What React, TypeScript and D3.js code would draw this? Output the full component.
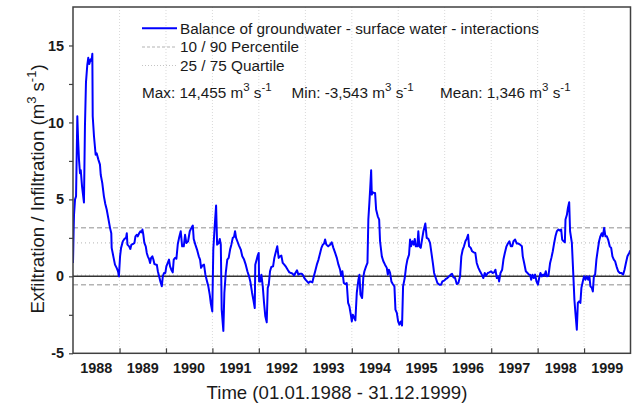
import { useEffect, useRef } from "react";
import * as d3 from "d3";

// day-of-year / value pairs, one array per year
const years = [1988, 1989, 1990, 1991, 1992, 1993, 1994, 1995, 1996, 1997, 1998, 1999];

const d1988 = [[0,0.87],[5,3.0],[8,4.0],[16,5.0],[24,5.2],[34,10.4],[40,8.9],[47,7.6],[55,6.7],[61,6.9],[71,5.85],[86,4.8],[94,9.75],[102,12.6],[112,13.7],[120,14.2],[128,13.8],[139,14.1],[146,14.0],[152,14.455],[155,10.4],[165,9.1],[178,7.9],[186,8.0],[199,7.6],[212,7.26],[218,6.6],[230,6.07],[243,5.2],[254,4.7],[265,4.34],[277,3.8],[291,3.15],[301,2.8],[304,1.85],[317,1.3],[330,0.76],[343,0.55],[354,0.33],[361,0.0]];
const d1989 = [[4,1.3],[12,1.85],[26,2.28],[38,2.43],[51,2.5],[57,2.8],[62,2.06],[75,1.95],[85,1.78],[93,2.06],[106,2.1],[117,2.17],[125,2.6],[136,2.7],[143,2.6],[154,2.8],[164,2.93],[172,2.86],[180,3.04],[187,2.7],[195,2.17],[206,1.95],[214,1.52],[222,1.3],[232,1.13],[240,0.87],[248,1.2],[258,1.3],[266,1.09],[274,0.8],[285,0.76],[293,0.76],[301,0.33],[311,0.0],[321,-0.33],[332,-0.65],[340,0.0],[350,0.22],[360,0.22]];
const d1990 = [[3,0.65],[14,0.87],[24,1.09],[32,0.65],[42,0.43],[53,0.26],[61,1.09],[72,1.2],[82,1.15],[93,2.1],[103,2.5],[116,2.93],[127,1.95],[140,1.95],[150,2.7],[160,2.17],[174,2.28],[187,2.93],[200,3.15],[211,3.3],[218,2.43],[231,2.06],[244,1.74],[258,1.3],[268,1.09],[276,0.55],[286,0.7],[299,0.76],[310,0.11],[323,-0.33],[333,-0.65],[344,-1.19],[352,-1.73],[364,-2.28]];
const d1991 = [[7,1.74],[18,3.25],[29,4.6],[37,2.06],[50,2.17],[58,2.43],[66,2.06],[73,-2.16],[86,-3.543],[94,-1.08],[105,0.22],[117,1.09],[128,1.2],[139,1.74],[149,2.06],[160,2.5],[170,2.56],[178,2.93],[186,2.5],[196,2.28],[209,2.0],[223,1.74],[235,1.3],[249,1.09],[262,0.76],[275,0.33],[288,0],[298,-0.33],[312,-1.08],[322,-1.52],[333,-2.06],[337,0.76],[348,1.09],[356,1.35],[364,1.52]];
const d1992 = [[2,-0.33],[12,-0.33],[20,0.11],[31,-0.65],[41,-1.73],[51,-2.6],[62,-2.99],[70,-0.75],[78,-0.54],[88,0.33],[98,0.61],[112,0.65],[122,1.2],[135,1.63],[145,1.95],[156,1.2],[167,1.3],[177,1.35],[188,0.87],[200,0.76],[214,0.61],[227,0.43],[240,0.26],[253,0.22],[266,0.17],[277,0.04],[287,0.22],[300,0.39],[311,0.11],[324,0.17],[337,0.17],[350,0.04],[358,-0.11]];
const d1993 = [[6,-0.26],[24,-0.43],[37,-0.33],[55,-0.39],[63,-0.11],[77,0.33],[90,0.76],[103,1.09],[116,1.52],[126,1.85],[137,2.06],[147,2.13],[155,2.39],[165,2.06],[179,1.95],[194,2.06],[207,2.21],[220,1.85],[234,1.52],[247,1.2],[260,0.76],[273,0.43],[281,0.04],[291,0.33],[302,-0.43],[312,-0.5],[325,-0.43],[336,-1.73],[346,-1.95],[357,-2.49],[365,-2.93]];
const d1994 = [[8,-2.49],[20,-2.71],[28,-2.86],[39,-1.08],[52,-0.22],[60,0.11],[68,-1.19],[81,-1.41],[91,0],[99,0.33],[112,0.65],[123,0.87],[130,3.69],[138,4.77],[144,5.64],[152,6.89],[157,5.31],[165,5.46],[175,5.42],[183,5.42],[191,4.34],[204,3.9],[215,3.69],[222,2.28],[236,1.3],[248,0.98],[261,0.76],[275,0.55],[283,0.11],[291,0.43],[301,0.22],[311,-0.33],[322,-0.5],[335,-0.65],[343,-2.16],[354,-2.38],[364,-2.93]];
const d1995 = [[9,-3.14],[20,-2.93],[30,-3.2],[38,-0.65],[51,-0.11],[62,0.65],[72,1.09],[85,1.41],[93,2.39],[101,1.95],[111,2.28],[122,2.06],[130,2.43],[138,1.95],[150,1.95],[158,2.93],[166,1.95],[177,1.85],[187,2.39],[198,2.93],[213,3.43],[224,2.5],[237,2.43],[250,2.17],[261,1.52],[272,0.87],[282,0.22],[295,-0.11],[308,-0.43],[324,-0.54],[337,-0.54],[347,-0.33],[361,-0.28]];
const d1996 = [[9,-0.17],[21,-0.11],[35,0],[48,0.11],[58,0.17],[68,-0.06],[82,-0.11],[95,-0.5],[108,-0.43],[121,0],[131,1.3],[142,1.74],[152,1.95],[163,2.28],[174,2.45],[184,2.7],[192,1.95],[205,1.85],[216,1.63],[229,1.56],[241,1.52],[252,0.87],[265,0.55],[278,0.33],[292,0.11],[304,-0.11],[315,0.22],[325,0.04],[339,0.22],[351,0.26],[365,0.33]];
const d1997 = [[10,0.22],[23,0.26],[33,0.43],[44,-0.11],[55,0],[62,-0.33],[73,0.22],[86,0.43],[96,1.09],[107,1.52],[120,1.95],[131,2.13],[143,2.28],[154,1.95],[165,1.95],[175,2.28],[188,2.39],[201,2.13],[214,2.13],[227,2.06],[241,1.95],[248,1.3],[259,0.87],[272,0.33],[285,0.22],[296,0.11],[306,0.11],[314,-0.22],[324,0.11],[335,-0.11],[345,0.11],[356,-0.33]];
const d1998 = [[2,-0.54],[12,-0.11],[22,0.22],[33,0],[43,0.11],[53,0.04],[64,0.33],[72,0],[85,0.04],[98,0.87],[108,1.2],[119,1.63],[130,2.17],[140,2.6],[151,2.93],[164,3.04],[177,2.97],[185,3.04],[193,2.39],[203,2.28],[214,2.21],[219,3.69],[230,4.0],[238,4.45],[248,4.81],[255,2.93],[269,2.17],[281,0],[289,-1.52],[297,-2.38],[308,-3.47],[316,-1.73],[326,-1.63],[336,-1.73],[344,-0.75],[355,-0.33],[365,0]];
const d1999 = [[11,-0.22],[22,0],[32,-0.22],[42,0],[50,-0.65],[61,-0.75],[69,-0.98],[77,0],[87,0.11],[97,1.09],[108,1.74],[118,2.28],[128,2.6],[139,2.8],[147,2.6],[158,3.15],[168,2.6],[179,2.6],[189,2.39],[202,1.95],[213,1.85],[223,1.3],[234,1.09],[244,0.98],[255,0.65],[268,0.33],[281,0.22],[294,0.22],[307,0.11],[318,0.43],[329,0.87],[341,1.3],[355,1.52],[364,1.69]];

const series = [d1988, d1989, d1990, d1991, d1992, d1993, d1994, d1995, d1996, d1997, d1998, d1999];

// reference levels
const percentiles = [-0.54, 3.15]; // 10 / 90
const quartiles = [0.08, 2.17]; // 25 / 75
const yMajor = [-5, 0, 5, 10, 15];
const yMinor = [-2.5, 2.5, 7.5, 12.5];

const legendLabels = ["Balance of groundwater - surface water - interactions", "10 / 90 Percentile", "25 / 75 Quartile"];
const stats = [["Max:", "14,455"], ["Min:", "-3,543"], ["Mean:", "1,346"]];

const FONT = "'Liberation Sans', Arial, Helvetica, sans-serif";
const DAY = 864e5;

export default function App() {
  const ref = useRef<SVGSVGElement | null>(null);

  useEffect(() => {
    if (!ref.current) return;
    const svg = d3.select(ref.current);
    svg.selectAll("*").remove();

    const left = 73, right = 630.5, top = 7, bottom = 353.3;
    const t0 = new Date(Date.UTC(1988, 0, 1));
    const t1 = new Date(Date.UTC(2000, 0, 1));
    const x = d3.scaleUtc().domain([t0, t1]).range([left, right]);
    const y = d3.scaleLinear().domain([-5, 17.5]).range([bottom, top]);

    const pts: { t: Date; v: number }[] = [];
    years.forEach((yr, i) => {
      series[i].forEach(([d, v]) => pts.push({ t: new Date(Date.UTC(yr, 0, 1) + d * DAY), v }));
    });

    svg.append("defs").append("clipPath").attr("id", "plotclip")
      .append("rect").attr("x", left).attr("y", top).attr("width", right - left).attr("height", bottom - top);

    const yearStarts = years.slice(1).map(yr => new Date(Date.UTC(yr, 0, 1)));

    // vertical grid
    svg.append("g").selectAll("line").data(yearStarts).join("line")
      .attr("x1", d => x(d)).attr("x2", d => x(d))
      .attr("y1", top).attr("y2", bottom)
      .attr("stroke", "#d9d9d9").attr("stroke-width", 1).attr("stroke-dasharray", "1,2");

    // percentile + quartile lines
    svg.append("g").selectAll("line").data(percentiles).join("line")
      .attr("x1", left).attr("x2", right).attr("y1", d => y(d)).attr("y2", d => y(d))
      .attr("stroke", "#b4b4b4").attr("stroke-width", 1.5).attr("stroke-dasharray", "5,3");
    svg.append("g").selectAll("line").data(quartiles).join("line")
      .attr("x1", left).attr("x2", right).attr("y1", d => y(d)).attr("y2", d => y(d))
      .attr("stroke", "#c4c4c4").attr("stroke-width", 1.2).attr("stroke-dasharray", "1,3");

    // zero line
    svg.append("line").attr("x1", left).attr("x2", right).attr("y1", y(0)).attr("y2", y(0))
      .attr("stroke", "#333").attr("stroke-width", 1.5);

    // series
    const line = d3.line<{ t: Date; v: number }>().x(d => x(d.t)).y(d => y(d.v));
    svg.append("path").datum(pts)
      .attr("clip-path", "url(#plotclip)")
      .attr("fill", "none").attr("stroke", "#0000ff").attr("stroke-width", 2)
      .attr("stroke-linejoin", "round").attr("d", line);

    // frame
    svg.append("rect").attr("x", left).attr("y", top).attr("width", right - left).attr("height", bottom - top)
      .attr("fill", "none").attr("stroke", "#404040").attr("stroke-width", 1.5);

    // y axis (major with labels, minor without)
    const gy = svg.append("g").attr("transform", `translate(${left},0)`)
      .call(d3.axisLeft(y).tickValues(yMajor).tickSize(4).tickPadding(5).tickFormat(d => String(d)));
    const gyMinor = svg.append("g").attr("transform", `translate(${left},0)`)
      .call(d3.axisLeft(y).tickValues(yMinor).tickSize(4).tickFormat(() => ""));
    gy.select(".domain").remove();
    gyMinor.select(".domain").remove();
    svg.selectAll(".tick line").attr("stroke", "#404040").attr("stroke-width", 1.2);
    gy.selectAll("text").attr("font-family", FONT).attr("font-size", 14.4).attr("font-weight", "bold").attr("fill", "#1a1a1a");

    // x axis: inward ticks at year boundaries, labels mid-year
    const gx = svg.append("g").attr("transform", `translate(0,${bottom})`)
      .call(d3.axisBottom(x).tickValues(yearStarts).tickSize(-5).tickFormat(() => ""));
    gx.select(".domain").remove();
    gx.selectAll("line").attr("stroke", "#404040").attr("stroke-width", 1.2);
    svg.append("g").selectAll("text").data(years).join("text")
      .attr("x", yr => x(new Date(Date.UTC(yr, 6, 2))))
      .attr("y", 373)
      .attr("text-anchor", "middle")
      .attr("font-family", FONT).attr("font-size", 14.4).attr("font-weight", "bold").attr("fill", "#1a1a1a")
      .text(yr => String(yr));

    // axis titles
    svg.append("text").attr("x", 337).attr("y", 399).attr("text-anchor", "middle")
      .attr("font-family", FONT).attr("font-size", 18.6).attr("fill", "#1a1a1a")
      .text("Time (01.01.1988 - 31.12.1999)");

    const yt = svg.append("text").attr("transform", "translate(44,189) rotate(-90)").attr("text-anchor", "middle")
      .attr("font-family", FONT).attr("font-size", 18.6).attr("fill", "#1a1a1a");
    yt.append("tspan").text("Exfiltration / Infiltration (m");
    yt.append("tspan").attr("dy", -8).attr("font-size", 13).text("3");
    yt.append("tspan").attr("dy", 8).text(" s");
    yt.append("tspan").attr("dy", -8).attr("font-size", 13).text("-1");
    yt.append("tspan").attr("dy", 8).text(")");

    // legend
    const lg = svg.append("g");
    const rowY = [28.3, 47, 65.5];
    lg.append("line").attr("x1", 142).attr("x2", 177).attr("y1", rowY[0]).attr("y2", rowY[0])
      .attr("stroke", "#0000ff").attr("stroke-width", 2);
    lg.append("line").attr("x1", 142).attr("x2", 177).attr("y1", rowY[1]).attr("y2", rowY[1])
      .attr("stroke", "#b4b4b4").attr("stroke-width", 1.2).attr("stroke-dasharray", "3,2");
    lg.append("line").attr("x1", 142).attr("x2", 177).attr("y1", rowY[2]).attr("y2", rowY[2])
      .attr("stroke", "#c4c4c4").attr("stroke-width", 1.2).attr("stroke-dasharray", "1,2");
    lg.selectAll("text.lbl").data(legendLabels).join("text").attr("class", "lbl")
      .attr("x", 180).attr("y", (_, i) => rowY[i] + 5.2)
      .attr("font-family", FONT).attr("font-size", 15.3).attr("fill", "#1a1a1a")
      .text(d => d);

    // stats row
    const statX = [142, 291.5, 440];
    stats.forEach(([name, val], i) => {
      const t = lg.append("text").attr("x", statX[i]).attr("y", 98)
        .attr("font-family", FONT).attr("font-size", 15.3).attr("fill", "#1a1a1a");
      t.append("tspan").text(`${name} ${val} m`);
      t.append("tspan").attr("dy", -7).attr("font-size", 11.5).text("3");
      t.append("tspan").attr("dy", 7).text(" s");
      t.append("tspan").attr("dy", -7).attr("font-size", 11.5).text("-1");
    });
  }, []);

  return (
    <svg ref={ref} width={633} height={411}
      style={{ position: "absolute", left: 0, top: 0, background: "#fff" }} />
  );
}
